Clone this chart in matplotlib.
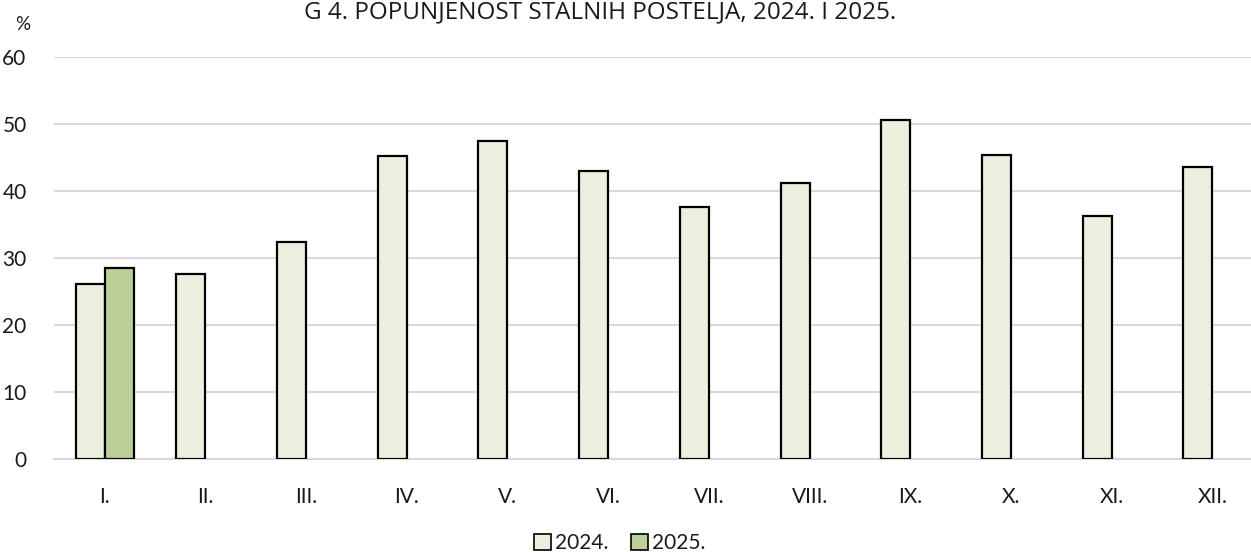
import matplotlib
matplotlib.use("Agg")
from matplotlib import pyplot as plt
from matplotlib.patches import Patch
import numpy as np

plt.rcParams['font.family'] = ['Lato', 'DejaVu Sans']

# Data
months = ['I.', 'II.', 'III.', 'IV.', 'V.', 'VI.', 'VII.', 'VIII.', 'IX.', 'X.', 'XI.', 'XII.']
occ_2024 = [26.2, 27.6, 32.5, 45.3, 47.5, 43.1, 37.6, 41.3, 50.6, 45.4, 36.3, 43.7]
occ_2025 = [28.5]
yticks = [0, 10, 20, 30, 40, 50, 60]

c2024 = '#EBF0DE'
c2025 = '#BBCF98'
txt = '#1a1a1a'

fig = plt.figure(figsize=(12.51, 5.52), dpi=100)
ax = fig.add_axes([54.35 / 1251, 1 - 459.3 / 552, 1 - 54.35 / 1251, 402 / 552])

x = np.arange(len(months))
w = 0.288
ax.bar(x - w / 2, occ_2024, width=w, color=c2024, edgecolor='black', linewidth=1.6, zorder=3)
ax.bar(x[:len(occ_2025)] + w / 2, occ_2025, width=w, color=c2025, edgecolor='black',
       linewidth=1.6, zorder=3)

ax.set_ylim(0, 60)
ax.set_xlim(-0.5, -0.5 + (1251 - 54.35) / 100.7)
ax.set_yticks(yticks)
ax.set_xticks(x)
ax.set_xticklabels(months)
ax.grid(axis='y', color='#D9D9D9', linewidth=1.5, zorder=0)
for s in ['top', 'right', 'left']:
    ax.spines[s].set_visible(False)
ax.spines['bottom'].set_color('#D9D9D9')
ax.spines['bottom'].set_linewidth(1.5)
ax.tick_params(axis='both', length=0, labelsize=15, colors=txt)
ax.tick_params(axis='x', pad=20)
ax.tick_params(axis='y', pad=20)

fig.text(23 / 1251, 1 - 25 / 552, '%', ha='center', va='center', fontsize=13.5, color=txt)
fig.text(600 / 1251, 1 - 18 / 552, 'G 4. POPUNJENOST STALNIH POSTELJA, 2024. I 2025.',
         ha='center', va='baseline', fontsize=17.5, color=txt, family=['Open Sans', 'DejaVu Sans'])

handles = [Patch(facecolor=c2024, edgecolor='black', linewidth=1.2, label='2024.'),
           Patch(facecolor=c2025, edgecolor='black', linewidth=1.2, label='2025.')]
fig.legend(handles=handles, loc='center', bbox_to_anchor=(620 / 1251, 1 - 543 / 552),
           ncol=2, frameon=False, fontsize=15, handlelength=0.8, handleheight=0.8,
           handletextpad=0.2, columnspacing=1.1, labelcolor=txt)

fig.savefig('out.png', dpi=100)
